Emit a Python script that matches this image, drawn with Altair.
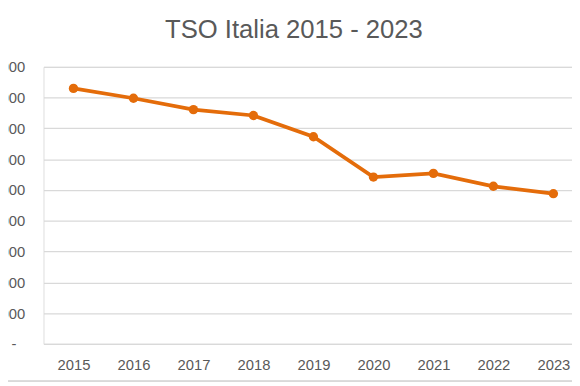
import altair as alt
import pandas as pd

years = ["2015", "2016", "2017", "2018", "2019", "2020", "2021", "2022", "2023"]
tso = [8300, 7980, 7610, 7420, 6730, 5420, 5540, 5120, 4880]
y_ticks = [0, 1000, 2000, 3000, 4000, 5000, 6000, 7000, 8000, 9000]

df = pd.DataFrame({"anno": years, "tso": tso})

GRID = "#d9d9d9"
TEXT = "#595959"
ORANGE = "#E46C0A"
FONT = "Liberation Sans"

line = alt.Chart(df).mark_line(
    color=ORANGE,
    strokeWidth=3.8,
    point=alt.OverlayMarkDef(filled=True, size=90, color=ORANGE, opacity=1),
).encode(
    x=alt.X(
        "anno:O",
        sort=years,
        scale=alt.Scale(type="point", padding=0.405, align=0.617),
        axis=alt.Axis(
            title=None,
            labelAngle=0,
            labelFont=FONT,
            labelFontSize=15,
            labelColor=TEXT,
            labelPadding=14,
            ticks=False,
            domain=True,
            domainColor=GRID,
            domainWidth=1.3,
            grid=False,
        ),
    ),
    y=alt.Y(
        "tso:Q",
        scale=alt.Scale(domain=[0, 9000], nice=False),
        axis=alt.Axis(
            title=None,
            values=y_ticks,
            labelExpr="datum.value == 0 ? '-' : replace(format(datum.value, ','), ',', '.')",
            labelFont=FONT,
            labelFontSize=15,
            labelColor=TEXT,
            labelPadding={"condition": {"test": "datum.value == 0", "value": 28}, "value": 19},
            ticks=False,
            domain=False,
            grid=True,
            gridColor=GRID,
            gridWidth=1.3,
        ),
    ),
)

border = alt.Chart(df).mark_rule(color=GRID, strokeWidth=1.5).encode(
    x=alt.value(-36), x2=alt.value(540), y=alt.value(319)
)

chart = alt.layer(line, border).properties(
    width=536,
    height=281,
    autosize=alt.AutoSizeParams(type="none"),
    padding={"left": 36, "top": 57, "right": 0, "bottom": 40},
    title=alt.Title(
        "TSO Italia 2015 - 2023",
        font=FONT,
        fontSize=26,
        fontWeight="normal",
        color=TEXT,
        anchor="middle",
        offset=17,
        dx=-14,
    ),
).configure_view(stroke=None).configure(background="white")

chart.save("out.html", embed_options={"renderer": "svg", "actions": False})
